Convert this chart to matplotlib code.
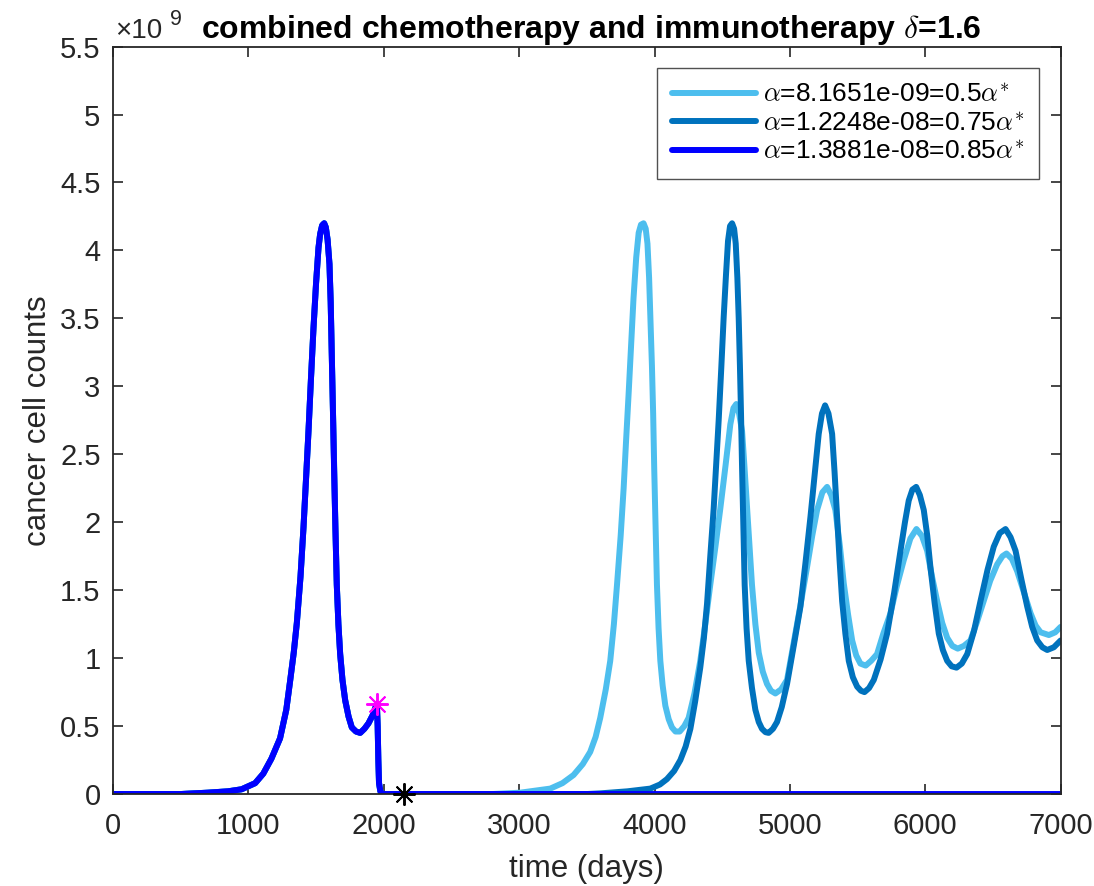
import matplotlib
matplotlib.use("Agg")
import matplotlib.pyplot as plt
from matplotlib.ticker import FuncFormatter

plt.rcParams['font.family'] = ['Liberation Sans', 'DejaVu Sans']
plt.rcParams['mathtext.fontset'] = 'cm'

# ---- data (cancer cell counts in units of 1e9) ----
t_early = [0, 500, 700, 850, 950, 1050, 1110, 1170, 1234, 1280, 1308, 1335, 1358, 1385, 1407, 1425,
           1444, 1462, 1481, 1500, 1518, 1530, 1545, 1560, 1572, 1585, 1599, 1608, 1616, 1625, 1633,
           1643, 1653, 1665, 1678, 1695, 1715, 1740, 1764, 1795, 1826, 1857, 1887, 1918, 1940, 1949,
           1955, 1960, 1965, 1975, 1990]
y_early = [0, 0, 0.01, 0.02, 0.035, 0.08, 0.15, 0.26, 0.41, 0.62, 0.83, 1.04, 1.26, 1.6, 1.96, 2.3,
           2.67, 3.05, 3.43, 3.76, 4.02, 4.12, 4.185, 4.2, 4.17, 4.08, 3.9, 3.62, 3.23, 2.8, 2.39,
           1.95, 1.54, 1.25, 1.03, 0.84, 0.69, 0.57, 0.49, 0.46, 0.45, 0.48, 0.52, 0.58, 0.64, 0.665,
           0.5, 0.25, 0.08, 0.02, 0]

t_blue_tail = [2000, 7000]
y_blue_tail = [0, 0]

t_light_tail = [2000, 2800, 3008, 3230, 3320, 3402, 3470, 3525, 3565, 3599, 3640, 3673, 3700, 3723,
                3750, 3772, 3790, 3809, 3827, 3845, 3865, 3883, 3900, 3919, 3935, 3948, 3960, 3970,
                3981, 3990, 3998, 4008, 4018, 4030, 4043, 4060, 4080, 4105, 4129, 4155, 4186, 4220,
                4252, 4295, 4338, 4375, 4412, 4450, 4486, 4525, 4560, 4583, 4604, 4625, 4647, 4665,
                4684, 4702, 4720, 4745, 4770, 4800, 4831, 4860, 4893, 4935, 4979, 5028, 5080, 5127,
                5165, 5201, 5240, 5275, 5305, 5336, 5370, 5398, 5430, 5460, 5490, 5521, 5560, 5600,
                5644, 5690, 5743, 5790, 5841, 5890, 5935, 5975, 6014, 6050, 6088, 6125, 6162, 6200,
                6240, 6285, 6334, 6380, 6432, 6480, 6531, 6570, 6600, 6640, 6679, 6730, 6778, 6815,
                6852, 6913, 6960, 7000]
y_light_tail = [0, 0, 0.01, 0.04, 0.08, 0.14, 0.22, 0.31, 0.42, 0.56, 0.77, 0.98, 1.25, 1.54,
                1.9, 2.25, 2.6, 2.95, 3.3, 3.65, 3.95, 4.13, 4.19, 4.2, 4.16, 4.05, 3.8, 3.5,
                3.15, 2.8, 2.39, 1.95, 1.54, 1.22, 0.98, 0.8, 0.65, 0.55, 0.49, 0.46, 0.46, 0.5,
                0.56, 0.74, 0.98, 1.25, 1.54, 1.82, 2.1, 2.42, 2.72, 2.84, 2.87, 2.8, 2.67, 2.4,
                2.1, 1.82, 1.54, 1.25, 1.04, 0.9, 0.81, 0.76, 0.74, 0.77, 0.84, 1.11, 1.4, 1.67,
                1.9, 2.09, 2.22, 2.26, 2.2, 2.09, 1.82, 1.55, 1.32, 1.13, 1.02, 0.96, 0.945, 0.98,
                1.03, 1.18, 1.33, 1.53, 1.72, 1.88, 1.95, 1.9, 1.79, 1.6, 1.42, 1.26, 1.15, 1.09,
                1.07, 1.09, 1.13, 1.26, 1.42, 1.57, 1.69, 1.75, 1.77, 1.73, 1.64, 1.48, 1.33, 1.24,
                1.19, 1.17, 1.19, 1.23]

t_dark_tail = [2000, 3500, 3600, 3800, 3969, 4040, 4092, 4145, 4191, 4230, 4265, 4300, 4338, 4365,
               4388, 4412, 4437, 4455, 4474, 4493, 4511, 4528, 4543, 4558, 4573, 4588, 4600, 4612,
               4622, 4631, 4639, 4647, 4657, 4666, 4680, 4696, 4720, 4745, 4770, 4794, 4820, 4843,
               4875, 4905, 4940, 4979, 5030, 5078, 5115, 5152, 5185, 5213, 5237, 5260, 5285, 5312,
               5330, 5349, 5367, 5386, 5410, 5435, 5465, 5497, 5525, 5551, 5585, 5620, 5670, 5718,
               5770, 5817, 5850, 5878, 5905, 5933, 5960, 5989, 6015, 6038, 6070, 6100, 6130, 6162,
               6195, 6231, 6270, 6310, 6360, 6408, 6460, 6506, 6550, 6593, 6630, 6667, 6710, 6753,
               6790, 6827, 6865, 6901, 6950, 7000]
y_dark_tail = [0, 0, 0.005, 0.02, 0.04, 0.07, 0.11, 0.17, 0.25, 0.35, 0.48, 0.68, 0.93, 1.15,
               1.4, 1.75, 2.1, 2.42, 2.75, 3.13, 3.51, 3.82, 4.07, 4.18, 4.2, 4.16, 4.05, 3.8,
               3.5, 3.15, 2.8, 2.39, 1.95, 1.54, 1.22, 0.98, 0.78, 0.62, 0.53, 0.48, 0.455, 0.45,
               0.48, 0.53, 0.64, 0.81, 1.1, 1.38, 1.7, 2.04, 2.37, 2.65, 2.8, 2.86, 2.8, 2.65,
               2.37, 2.04, 1.72, 1.42, 1.18, 0.98, 0.86, 0.79, 0.76, 0.75, 0.78, 0.84, 0.99, 1.18,
               1.48, 1.79, 2.0, 2.16, 2.24, 2.26, 2.2, 2.09, 1.9, 1.67, 1.4, 1.18, 1.06, 0.98,
               0.94, 0.93, 0.96, 1.03, 1.2, 1.42, 1.65, 1.82, 1.92, 1.95, 1.89, 1.79, 1.58, 1.38,
               1.23, 1.13, 1.08, 1.06, 1.08, 1.13]

labels = [r"$\alpha$=8.1651e-09=0.5$\alpha^{*}$",
          r"$\alpha$=1.2248e-08=0.75$\alpha^{*}$",
          r"$\alpha$=1.3881e-08=0.85$\alpha^{*}$"]
colors = ['#4DBEEE', '#0072BD', '#0000FF']

treat_point = (1949, 0.665)
end_point = (2150, 0.0)

x_ticks = [0, 1000, 2000, 3000, 4000, 5000, 6000, 7000]
y_ticks = [0, 0.5, 1, 1.5, 2, 2.5, 3, 3.5, 4, 4.5, 5, 5.5]

# ---- figure ----
fig = plt.figure(figsize=(10.94, 8.86), dpi=100)
ax = fig.add_axes([0.1033, 0.1038, 0.8662, 0.8436])

series = [(t_early + t_light_tail, y_early + y_light_tail),
          (t_early + t_dark_tail, y_early + y_dark_tail),
          (t_early + t_blue_tail, y_early + y_blue_tail)]
for (t, y), c, lab in zip(series, colors, labels):
    ax.plot(t, y, color=c, lw=4.3, label=lab, solid_joinstyle='round', solid_capstyle='round')

ax.plot([treat_point[0]], [treat_point[1]], linestyle='none', marker=(8, 2, 0),
        markersize=16, markeredgewidth=1.4, color='#FF00FF')
ax.plot([end_point[0]], [end_point[1]], linestyle='none', marker=(8, 2, 0),
        markersize=16, markeredgewidth=1.4, color='black', clip_on=False, zorder=5)

ax.set_xlim(0, 7000)
ax.set_ylim(0, 5.5)
ax.set_xticks(x_ticks)
ax.set_yticks(y_ticks)
ax.yaxis.set_major_formatter(FuncFormatter(lambda v, p: f"{v:g}"))
ax.tick_params(direction='in', length=7, width=1.2, top=True, right=True,
               labelsize=21, colors='#262626')
ax.tick_params(axis='x', pad=13)
ax.tick_params(axis='y', pad=9)
for sp in ax.spines.values():
    sp.set_linewidth(1.3)
    sp.set_color('#262626')

ax.set_xlabel('time (days)', fontsize=22.5, color='#262626', labelpad=10)
ax.set_ylabel('cancer cell counts', fontsize=22.5, color='#262626', labelpad=5)
ax.set_title(r'combined chemotherapy and immunotherapy $\delta$=1.6',
             fontsize=23, fontweight='bold', pad=6, x=0.505)
# MATLAB-style exponent label
ax.annotate('\u00d710', xy=(0, 1), xycoords='axes fraction', xytext=(1.5, 6),
            textcoords='offset points', fontsize=20, color='#262626',
            ha='left', va='baseline')
ax.annotate('9', xy=(0, 1), xycoords='axes fraction', xytext=(41, 15.5),
            textcoords='offset points', fontsize=15.5, color='#262626',
            ha='left', va='baseline')

leg = ax.legend(loc='upper right', fontsize=19, frameon=True, fancybox=False,
                edgecolor='#262626', handlelength=3.2, borderaxespad=0.82,
                labelspacing=0.18, handletextpad=0.26, borderpad=0.55)
leg.get_frame().set_linewidth(1.0)

fig.savefig('out.png', dpi=100)
